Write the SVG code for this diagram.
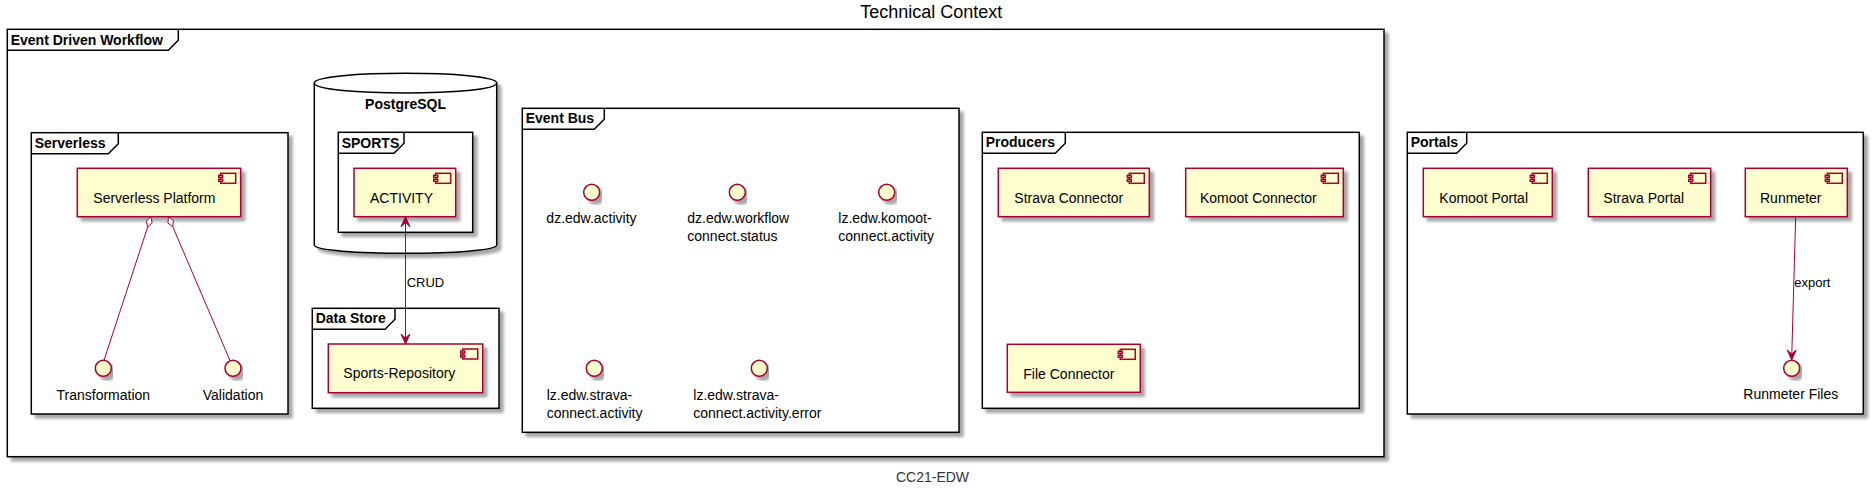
<svg xmlns="http://www.w3.org/2000/svg" width="1874" height="489" viewBox="0 0 1874 489">
<defs>
<filter id="sh" x="-5%" y="-5%" width="115%" height="130%">
<feGaussianBlur in="SourceAlpha" stdDeviation="1.8"/>
<feOffset dx="4" dy="4" result="o"/>
<feComponentTransfer><feFuncA type="linear" slope="0.35"/></feComponentTransfer>
<feMerge><feMergeNode/><feMergeNode in="SourceGraphic"/></feMerge>
</filter>
<style>
text{font-family:"Liberation Sans",Arial,sans-serif;fill:#000}
.t14{font-size:14px}
.b14{font-size:14px;font-weight:bold}
.l13{font-size:13px}
.frame{fill:#fff;stroke:#000;stroke-width:1.5;filter:url(#sh)}
.tab{fill:none;stroke:#000;stroke-width:1.5}
.comp{fill:#FEFECE;stroke:#A80036;stroke-width:1.5;filter:url(#sh)}
.ico{fill:#FEFECE;stroke:#A80036;stroke-width:1.5}
.ifc{fill:#FEFECE;stroke:#A80036;stroke-width:1.5;filter:url(#sh)}
.edge{fill:none;stroke:#A80036;stroke-width:1}
.head{fill:#A80036;stroke:#A80036;stroke-width:1}
.dia{fill:#fff;stroke:#A80036;stroke-width:1}
</style>
</defs>
<rect width="1874" height="489" fill="#fff"/>
<text x="931.3" y="18" font-size="18" text-anchor="middle">Technical Context</text>
<text x="932.5" y="481.7" font-size="14" text-anchor="middle" style="fill:#333333">CC21-EDW</text>

<g id="frame-event-driven-workflow">
<rect class="frame" x="7.3" y="29.3" width="1376.7" height="427.4"/>
<path class="tab" d="M7.3,50.3 L168.3,50.3 L178.3,40.3 L178.3,29.3"/>
<text class="b14" x="10.7" y="45">Event Driven Workflow</text>
</g>

<g id="frame-serverless">
<rect class="frame" x="31.3" y="132.7" width="256.7" height="281.3"/>
<path class="tab" d="M31.3,153.7 L108.3,153.7 L118.3,143.7 L118.3,132.7"/>
<text class="b14" x="34.7" y="147.7">Serverless</text>
</g>

<g id="db-postgresql">
<path d="M314.3,83 C314.3,70 496.7,70 496.7,83 L496.7,245 C496.7,256 314.3,256 314.3,245 Z" fill="#fff" stroke="#000" stroke-width="1.5" filter="url(#sh)"/>
<path d="M314.3,83 C314.3,96.3 496.7,96.3 496.7,83" fill="none" stroke="#000" stroke-width="1.5"/>
<text class="b14" x="405.5" y="109.3" text-anchor="middle">PostgreSQL</text>
</g>

<g id="frame-sports">
<rect class="frame" x="338.3" y="132.3" width="134.4" height="100"/>
<path class="tab" d="M338.3,153.3 L394,153.3 L404,143.3 L404,132.3"/>
<text class="b14" x="341.7" y="147.5">SPORTS</text>
</g>

<g id="frame-data-store">
<rect class="frame" x="312.3" y="308.3" width="186.7" height="100"/>
<path class="tab" d="M312.3,329.3 L385,329.3 L395,319.3 L395,308.3"/>
<text class="b14" x="315.7" y="323.3">Data Store</text>
</g>

<g id="frame-event-bus">
<rect class="frame" x="522.3" y="108.3" width="436.7" height="324"/>
<path class="tab" d="M522.3,129.3 L594.3,129.3 L604.3,119.3 L604.3,108.3"/>
<text class="b14" x="525.7" y="123.3">Event Bus</text>
</g>

<g id="frame-producers">
<rect class="frame" x="982.3" y="132.3" width="377" height="276"/>
<path class="tab" d="M982.3,153.3 L1055.3,153.3 L1065.3,143.3 L1065.3,132.3"/>
<text class="b14" x="985.7" y="147.3">Producers</text>
</g>

<g id="frame-portals">
<rect class="frame" x="1407.3" y="132.3" width="456" height="281.7"/>
<path class="tab" d="M1407.3,153.3 L1456.7,153.3 L1466.7,143.3 L1466.7,132.3"/>
<text class="b14" x="1410.7" y="147.3">Portals</text>
</g>

<g id="serverless-platform">
<rect class="comp" x="77.3" y="168.3" width="163.4" height="48.4"/>
<rect class="ico" x="220.7" y="173.3" width="15" height="10"/>
<rect class="ico" x="218.7" y="175.3" width="4" height="2"/>
<rect class="ico" x="218.7" y="179.3" width="4" height="2"/>
<text class="t14" x="93.3" y="202.7">Serverless Platform</text>
</g>

<g id="transformation">
<circle class="ifc" cx="103.3" cy="368.3" r="8"/>
<text class="t14" x="103.3" y="400" text-anchor="middle">Transformation</text>
</g>

<g id="validation">
<circle class="ifc" cx="233" cy="368.3" r="8"/>
<text class="t14" x="233" y="400" text-anchor="middle">Validation</text>
</g>

<g id="activity">
<rect class="comp" x="354" y="168.3" width="101.7" height="48.4"/>
<rect class="ico" x="435.7" y="173.3" width="15" height="10"/>
<rect class="ico" x="433.7" y="175.3" width="4" height="2"/>
<rect class="ico" x="433.7" y="179.3" width="4" height="2"/>
<text class="t14" x="370" y="202.7">ACTIVITY</text>
</g>

<g id="sports-repository">
<rect class="comp" x="328.3" y="344" width="154.4" height="48.7"/>
<rect class="ico" x="462.7" y="349" width="15" height="10"/>
<rect class="ico" x="460.7" y="351" width="4" height="2"/>
<rect class="ico" x="460.7" y="355" width="4" height="2"/>
<text class="t14" x="343.3" y="378.3">Sports-Repository</text>
</g>

<g id="dz-edw-activity">
<circle class="ifc" cx="591.7" cy="192.3" r="8"/>
<text class="t14" x="591.5" y="223.3" text-anchor="middle">dz.edw.activity</text>
</g>

<g id="dz-edw-workflow-connect-status">
<circle class="ifc" cx="737.3" cy="192.3" r="8"/>
<text class="t14" x="687.3" y="223.3">dz.edw.workflow</text>
<text class="t14" x="687.3" y="240.7">connect.status</text>
</g>

<g id="lz-edw-komoot-connect-activity">
<circle class="ifc" cx="886.7" cy="192.3" r="8"/>
<text class="t14" x="838.3" y="223.3">lz.edw.komoot-</text>
<text class="t14" x="838.3" y="240.7">connect.activity</text>
</g>

<g id="lz-edw-strava-connect-activity">
<circle class="ifc" cx="594.3" cy="368.3" r="8"/>
<text class="t14" x="546.7" y="400">lz.edw.strava-</text>
<text class="t14" x="546.7" y="417.5">connect.activity</text>
</g>

<g id="lz-edw-strava-connect-activity-error">
<circle class="ifc" cx="759.3" cy="368.3" r="8"/>
<text class="t14" x="693.3" y="400">lz.edw.strava-</text>
<text class="t14" x="693.3" y="417.5">connect.activity.error</text>
</g>

<g id="strava-connector">
<rect class="comp" x="998.3" y="168.3" width="151" height="48.4"/>
<rect class="ico" x="1129.3" y="173.3" width="15" height="10"/>
<rect class="ico" x="1127.3" y="175.3" width="4" height="2"/>
<rect class="ico" x="1127.3" y="179.3" width="4" height="2"/>
<text class="t14" x="1014.3" y="202.7">Strava Connector</text>
</g>

<g id="komoot-connector">
<rect class="comp" x="1185.7" y="168.3" width="157.6" height="48.4"/>
<rect class="ico" x="1323.3" y="173.3" width="15" height="10"/>
<rect class="ico" x="1321.3" y="175.3" width="4" height="2"/>
<rect class="ico" x="1321.3" y="179.3" width="4" height="2"/>
<text class="t14" x="1200" y="202.7">Komoot Connector</text>
</g>

<g id="file-connector">
<rect class="comp" x="1007.3" y="344.3" width="133" height="48"/>
<rect class="ico" x="1120.3" y="349.3" width="15" height="10"/>
<rect class="ico" x="1118.3" y="351.3" width="4" height="2"/>
<rect class="ico" x="1118.3" y="355.3" width="4" height="2"/>
<text class="t14" x="1023.3" y="378.7">File Connector</text>
</g>

<g id="komoot-portal">
<rect class="comp" x="1423.3" y="168.3" width="129" height="48.4"/>
<rect class="ico" x="1532.3" y="173.3" width="15" height="10"/>
<rect class="ico" x="1530.3" y="175.3" width="4" height="2"/>
<rect class="ico" x="1530.3" y="179.3" width="4" height="2"/>
<text class="t14" x="1439.3" y="202.7">Komoot Portal</text>
</g>

<g id="strava-portal">
<rect class="comp" x="1588.3" y="168.3" width="122.4" height="48.4"/>
<rect class="ico" x="1690.7" y="173.3" width="15" height="10"/>
<rect class="ico" x="1688.7" y="175.3" width="4" height="2"/>
<rect class="ico" x="1688.7" y="179.3" width="4" height="2"/>
<text class="t14" x="1603.3" y="202.7">Strava Portal</text>
</g>

<g id="runmeter">
<rect class="comp" x="1745.3" y="168.3" width="102" height="48.4"/>
<rect class="ico" x="1827.3" y="173.3" width="15" height="10"/>
<rect class="ico" x="1825.3" y="175.3" width="4" height="2"/>
<rect class="ico" x="1825.3" y="179.3" width="4" height="2"/>
<text class="t14" x="1760" y="202.7">Runmeter</text>
</g>

<g id="runmeter-files">
<circle class="ifc" cx="1791.7" cy="368.3" r="8"/>
<text class="t14" x="1790.8" y="399.3" text-anchor="middle">Runmeter Files</text>
</g>

<g id="connectors">
<line class="edge" x1="147.6" y1="227.2" x2="104" y2="360.3"/>
<polygon class="dia" points="151,216.7 152.1,222.8 147.6,227.2 146.4,221"/>
<line class="edge" x1="172.8" y1="226.8" x2="230" y2="360.5"/>
<polygon class="dia" points="168.5,216.7 173.4,220.6 172.8,226.8 167.9,223"/>
<line class="edge" x1="405.5" y1="222" x2="405.5" y2="338.5"/>
<polygon class="head" points="405.5,216.7 410,226.7 405.5,222.7 401,226.7"/>
<polygon class="head" points="405.5,344 410,334 405.5,338 401,334"/>
<text class="l13" x="406.7" y="286.7">CRUD</text>
<line class="edge" x1="1795.7" y1="216.7" x2="1791.8" y2="354"/>
<polygon class="head" points="1791.7,360 1796.2,350 1791.7,354 1787.2,350"/>
<text class="l13" x="1794.3" y="286.7">export</text>
</g>
</svg>
